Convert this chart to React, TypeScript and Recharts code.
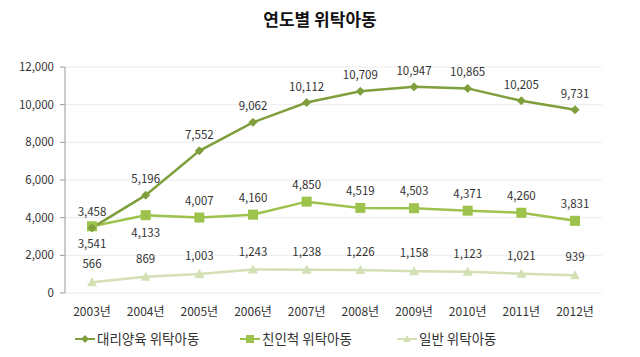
import React from 'react';
import { LineChart, Line, XAxis, YAxis, CartesianGrid, Legend, LabelList } from 'recharts';

const years = ['2003년', '2004년', '2005년', '2006년', '2007년', '2008년', '2009년', '2010년', '2011년', '2012년'];
const surrogate = [3458, 5196, 7552, 9062, 10112, 10709, 10947, 10865, 10205, 9731];
const kinship = [3541, 4133, 4007, 4160, 4850, 4519, 4503, 4371, 4260, 3831];
const general = [566, 869, 1003, 1243, 1238, 1226, 1158, 1123, 1021, 939];
const yTicks = [0, 2000, 4000, 6000, 8000, 10000, 12000];
const names = ['대리양육 위탁아동', '친인척 위탁아동', '일반 위탁아동'];

const C1 = '#7f9f3c';
const C2 = '#9dc34d';
const C3 = '#d3e0b4';
const FONT = '"Noto Sans CJK KR", "Noto Sans", sans-serif';

const data = years.map((y, i) => ({ year: y, s1: surrogate[i], s2: kinship[i], s3: general[i] }));

const fmt = (v: number) => v.toLocaleString('en-US');

const Diamond = (p: any) => {
  const { cx, cy } = p;
  if (cx == null) return null;
  return <path d={`M${cx},${cy - 4}L${cx + 4},${cy}L${cx},${cy + 4}L${cx - 4},${cy}Z`} fill={C1} stroke={C1} />;
};
const Square = (p: any) => {
  const { cx, cy } = p;
  if (cx == null) return null;
  return <rect x={cx - 5} y={cy - 5} width={10} height={10} fill={C2} />;
};
const Tri = (p: any) => {
  const { cx, cy } = p;
  if (cx == null) return null;
  return <path d={`M${cx},${cy - 5}L${cx + 5},${cy + 4}L${cx - 5},${cy + 4}Z`} fill={C3} />;
};

const makeLabel = (below: number[], offUp: number, offDown: number) => (p: any) => {
  const { x, y, value, index } = p;
  const isBelow = below.includes(index);
  return (
    <text x={x} y={isBelow ? y + offDown : y - offUp} textAnchor="middle" fontSize={11.5} fill="#333" fontFamily={FONT}>
      {fmt(value)}
    </text>
  );
};

const LegendContent = () => {
  const items = [
    { name: names[0], color: C1, shape: 'd', x: 60 },
    { name: names[1], color: C2, shape: 's', x: 225 },
    { name: names[2], color: C3, shape: 't', x: 382 },
  ];
  return (
    <svg width={640} height={30} style={{ display: 'block' }}>
      {items.map((it) => (
        <g key={it.name}>
          <line x1={it.x} x2={it.x + 20} y1={12} y2={12} stroke={it.color} strokeWidth={2} />
          {it.shape === 'd' && <path d={`M${it.x + 10},8L${it.x + 14},12L${it.x + 10},16L${it.x + 6},12Z`} fill={it.color} />}
          {it.shape === 's' && <rect x={it.x + 6} y={8} width={8} height={8} fill={it.color} />}
          {it.shape === 't' && <path d={`M${it.x + 10},8L${it.x + 14},15L${it.x + 6},15Z`} fill={it.color} />}
          <text x={it.x + 22} y={17} fontSize={13.5} fill="#333" fontFamily={FONT}>{it.name}</text>
        </g>
      ))}
    </svg>
  );
};

export default function App() {
  return (
    <div style={{ position: 'absolute', left: 0, top: 0, width: 640, height: 357, background: '#fff' }}>
      <div style={{ position: 'absolute', top: 6, width: 640, textAlign: 'center', fontFamily: FONT, fontWeight: 'bold', fontSize: 17, color: '#111' }}>
        연도별 위탁아동
      </div>
      <LineChart width={640} height={357} data={data} margin={{ top: 67, right: 38, left: 15, bottom: 0 }} style={{ position: 'absolute', left: 0, top: 0 }}>
        <CartesianGrid vertical={false} stroke="#ececec" />
        <XAxis xAxisId="b" type="number" domain={[0, 10]} ticks={[0, 1, 2, 3, 4, 5, 6, 7, 8, 9, 10]} tick={false} height={0} stroke="#999" tickSize={5} allowDataOverflow />
        <XAxis dataKey="year" height={34} axisLine={false} tickLine={false} tickMargin={8} padding={{ left: 27, right: 27 }} tick={{ fontSize: 12, fill: '#333', fontFamily: FONT }} interval={0} />
        <YAxis domain={[0, 12000]} ticks={yTicks} width={50} tickFormatter={fmt} stroke="#999" tickSize={5} tickMargin={6} tick={{ fontSize: 11.5, fill: '#333', fontFamily: FONT }} />
        <Legend verticalAlign="bottom" content={<LegendContent />} wrapperStyle={{ height: 30 }} />
        <Line dataKey="s3" name={names[2]} stroke={C3} strokeWidth={2.5} dot={<Tri />} isAnimationActive={false}>
          <LabelList dataKey="s3" content={makeLabel([], 14, 0)} />
        </Line>
        <Line dataKey="s2" name={names[1]} stroke={C2} strokeWidth={2.5} dot={<Square />} isAnimationActive={false}>
          <LabelList dataKey="s2" content={makeLabel([0, 1], 13, 22)} />
        </Line>
        <Line dataKey="s1" name={names[0]} stroke={C1} strokeWidth={2.5} dot={<Diamond />} isAnimationActive={false}>
          <LabelList dataKey="s1" content={makeLabel([], 12, 0)} />
        </Line>
      </LineChart>
    </div>
  );
}
